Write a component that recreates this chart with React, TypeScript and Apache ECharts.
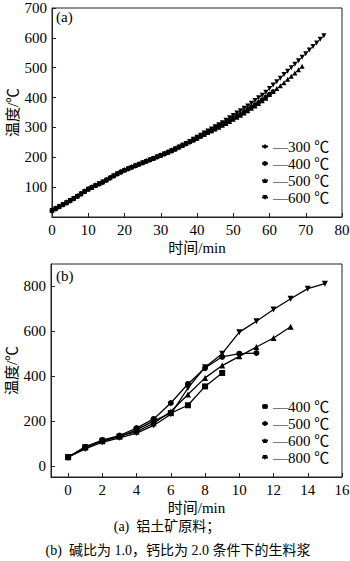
import React, { useEffect, useRef } from "react";
import * as echarts from "echarts";

// (a) temperature (℃) sampled every minute from t = 0
const a300 = [24,30,36,43,50,57,64,71,79,87,95,101,107,112,119,126,133,140,146,152,158,163,168,173,178,183,188,193,198,203,208,213,219,224,230,236,242,248,254,261,268,274,281,287,294,300,307,314];
const a400 = [21,27,34,41,47,54,61,69,77,85,93,99,105,110,116,123,130,137,144,150,156,161,166,171,176,181,186,191,196,201,206,211,216,221,227,233,239,245,251,257,263,270,276,283,289,296,302,309,316,323,330,337,344,352,360,368,376,384,393,402,411,420];
const a500 = [23,29,36,42,49,56,63,70,78,86,94,100,106,112,118,125,132,139,146,152,158,163,168,173,178,183,188,193,198,203,208,213,218,223,229,235,241,247,253,259,265,271,277,283,289,295,301,307,313,320,327,334,341,348,356,364,372,380,389,398,410,420,430,440,450,461,471,482,493,505];
const a600 = [22,28,34,41,48,55,62,69,77,85,93,99,105,111,117,123,130,137,144,150,156,161,166,171,176,181,186,191,196,201,206,211,216,222,228,234,240,246,253,260,267,274,281,288,295,302,309,316,324,332,340,348,356,364,372,381,390,399,408,418,430,442,453,465,477,488,500,512,523,535,547,559,571,583,595,607];
const aNames = ["300", "400", "500", "600"];
const aXTicks = [0, 10, 20, 30, 40, 50, 60, 70, 80];
const aYTicks = [100, 200, 300, 400, 500, 600, 700];

// (b) time (min) and temperatures (℃)
const bTimes = [0,1,2,3,4,5,6,7,8,9,10,11,12,13,14,15];
const b400 = [39,83,112,130,160,200,235,270,354,414];
const b500 = [38,85,115,135,168,209,280,365,436,486,500,503];
const b600 = [38,82,110,132,152,190,242,318,392,447,488,530,570,620];
const b800 = [38,75,105,125,146,180,230,347,440,500,596,645,697,745,790,812];
const bNames = ["400", "500", "600", "800"];
const bXTicks = [0, 2, 4, 6, 8, 10, 12, 14, 16];
const bYTicks = [0, 200, 400, 600, 800];

const FONT = "'Liberation Serif', 'Noto Sans CJK SC', serif";
const DOWN = "path://M0,0 L10,0 L5,9 Z";
const aSymbols = ["diamond", "circle", "triangle", DOWN];
const bSymbols = ["rect", "circle", "triangle", DOWN];

export default function App() {
  const ref = useRef<HTMLDivElement>(null);
  useEffect(() => {
    if (!ref.current) return;
    const chart = echarts.init(ref.current, undefined, { renderer: "svg" });
    const axisCommon = {
      axisLine: { show: true, onZero: false, lineStyle: { color: "#222", width: 1 } },
      axisTick: { show: true, inside: true, length: 4, lineStyle: { color: "#222" } },
      axisLabel: { color: "#000", fontSize: 15, fontFamily: FONT, margin: 5 },
      splitLine: { show: false },
      nameTextStyle: { color: "#000", fontSize: 15, fontFamily: FONT },
      nameLocation: "middle" as const,
      nameMoveOverlap: false,
    };
    const aSeries = [a300, a400, a500, a600].map((arr, i) => ({
      name: "a" + aNames[i],
      type: "line",
      xAxisIndex: 0,
      yAxisIndex: 0,
      data: arr.map((v, t) => [t, v]),
      symbol: aSymbols[i],
      symbolSize: 5,
      lineStyle: { color: "#000", width: 1 },
      itemStyle: { color: "#000" },
    }));
    const bSeries = [b400, b500, b600, b800].map((arr, i) => ({
      name: "b" + bNames[i],
      type: "line",
      xAxisIndex: 1,
      yAxisIndex: 1,
      data: arr.map((v, k) => [bTimes[k], v]),
      symbol: bSymbols[i],
      symbolSize: 6,
      lineStyle: { color: "#000", width: 1.3 },
      itemStyle: { color: "#000" },
    }));
    const legendCommon = {
      orient: "vertical" as const,
      itemWidth: 6,
      itemHeight: 6,
      itemGap: 2,
      padding: 0,
      selectedMode: false,
      textStyle: { color: "#000", fontSize: 15, fontFamily: FONT, lineHeight: 15 },
      formatter: (n: string) => "—" + n.slice(1) + " ℃",
    };
    chart.setOption({
      animation: false,
      backgroundColor: "#fff",
      grid: [
        { left: 52, right: 8, top: 8, height: 209, show: true, borderColor: "#222", borderWidth: 1, containLabel: false, outerBoundsMode: "none" },
        { left: 51, right: 8, top: 264, height: 213, show: true, borderColor: "#222", borderWidth: 1, containLabel: false, outerBoundsMode: "none" },
      ],
      xAxis: [
        {
          ...axisCommon, gridIndex: 0, type: "value", min: 0, max: 80,
          axisLabel: { ...axisCommon.axisLabel, customValues: aXTicks },
          axisTick: { ...axisCommon.axisTick, customValues: aXTicks },
          name: "时间/min", nameGap: 23,
        },
        {
          ...axisCommon, gridIndex: 1, type: "value", min: -1, max: 16,
          axisLabel: { ...axisCommon.axisLabel, customValues: bXTicks },
          axisTick: { ...axisCommon.axisTick, customValues: bXTicks },
          name: "时间/min", nameGap: 23,
        },
      ],
      yAxis: [
        {
          ...axisCommon, gridIndex: 0, type: "value", min: 0, max: 700,
          axisLabel: { ...axisCommon.axisLabel, customValues: aYTicks },
          axisTick: { ...axisCommon.axisTick, customValues: aYTicks },
          name: "温度/℃", nameGap: 32, nameRotate: 90,
        },
        {
          ...axisCommon, gridIndex: 1, type: "value", min: -50, max: 900,
          axisLabel: { ...axisCommon.axisLabel, customValues: bYTicks },
          axisTick: { ...axisCommon.axisTick, customValues: bYTicks },
          name: "温度/℃", nameGap: 32, nameRotate: 90,
        },
      ],
      legend: [
        { ...legendCommon, left: 261, top: 139, data: aNames.map((n) => "a" + n) },
        { ...legendCommon, left: 261, top: 399, data: bNames.map((n) => "b" + n) },
      ],
      graphic: [
        { type: "text", x: 56, y: 9, style: { text: "(a)", font: "15px 'Liberation Serif'", fill: "#000" } },
        { type: "text", x: 56, y: 268, style: { text: "(b)", font: "15px 'Liberation Serif'", fill: "#000" } },
        {
          type: "text", x: 167, y: 526,
          style: { text: "(a)  铝土矿原料；", fontSize: 14, fontFamily: FONT, fill: "#000", textAlign: "center", textVerticalAlign: "middle" },
        },
        {
          type: "text", x: 178, y: 550,
          style: { text: "(b)  碱比为 1.0，钙比为 2.0 条件下的生料浆", fontSize: 14, fontFamily: FONT, fill: "#000", textAlign: "center", textVerticalAlign: "middle" },
        },
      ],
      series: [...aSeries, ...bSeries],
    });
    return () => chart.dispose();
  }, []);
  return (
    <div
      ref={ref}
      style={{ position: "fixed", left: 0, top: 0, width: 350, height: 561, background: "#fff" }}
    />
  );
}
